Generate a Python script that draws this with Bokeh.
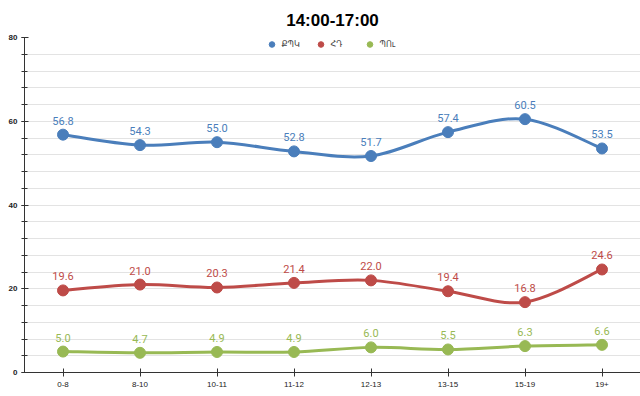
from bokeh.plotting import figure
from bokeh.models import Range1d, FixedTicker, SingleIntervalTicker, ColumnDataSource, Legend, LegendItem
from bokeh.embed import file_html
from bokeh.resources import INLINE
from bokeh.core.properties import value

title_text = "14:00-17:00"
categories = ["0-8", "8-10", "10-11", "11-12", "12-13", "13-15", "15-19", "19+"]
series_names = ["ՔՊԿ", "ՀԴ", "ՊՈւ"]
blue_vals = [56.8, 54.3, 55.0, 52.8, 51.7, 57.4, 60.5, 53.5]
red_vals = [19.6, 21.0, 20.3, 21.4, 22.0, 19.4, 16.8, 24.6]
green_vals = [5.0, 4.7, 4.9, 4.9, 6.0, 5.5, 6.3, 6.6]
colors = ["#4a7ebb", "#be4b48", "#98b954"]

p = figure(width=640, height=396, output_backend="svg", toolbar_location=None,
           x_range=Range1d(-0.5, len(categories) - 0.5), y_range=Range1d(0, 80),
           min_border_left=24, min_border_right=0, min_border_top=37, min_border_bottom=24)
p.outline_line_color = None
p.title.text = title_text
p.title.align = "center"
p.title.text_font = "Liberation Sans"
p.title.text_font_size = "17px"
p.title.text_font_style = "bold"
p.title.text_color = "#000000"
p.title.standoff = 15

# axes
xa = p.xaxis[0]
xa.ticker = FixedTicker(ticks=list(range(len(categories))))
xa.major_label_overrides = {i: c for i, c in enumerate(categories)}
xa.major_tick_in = 4
xa.major_tick_out = 4
xa.minor_tick_line_color = None
xa.axis_line_color = "#333333"
xa.major_tick_line_color = "#333333"
xa.major_label_text_font = "Liberation Sans"
xa.major_label_text_font_size = "8px"
xa.major_label_text_color = "#222222"
xa.major_label_standoff = 5

ya = p.yaxis[0]
ya.ticker = SingleIntervalTicker(interval=20, num_minor_ticks=5)
ya.major_tick_in = 4
ya.major_tick_out = 3
ya.minor_tick_in = 3
ya.minor_tick_out = 3
ya.axis_line_color = "#333333"
ya.major_tick_line_color = "#333333"
ya.minor_tick_line_color = "#333333"
ya.major_label_text_font = "Liberation Sans"
ya.major_label_text_font_size = "8px"
ya.major_label_text_font_style = "bold"
ya.major_label_text_color = "#222222"
ya.major_label_standoff = 4

p.xgrid.grid_line_color = None
p.ygrid.grid_line_color = "#e3e3e3"
p.ygrid.minor_grid_line_color = "#e3e3e3"
p.ygrid.ticker = ya.ticker

xs = list(range(len(categories)))
legend_items = []
for name, vals, col in zip(series_names, [blue_vals, red_vals, green_vals], colors):
    n = len(vals)
    x0, y0, x1, y1, cx0, cy0, cx1, cy1 = [], [], [], [], [], [], [], []
    for i in range(n - 1):
        xm1, ym1 = (xs[i - 1], vals[i - 1]) if i > 0 else (xs[i], vals[i])
        xp2, yp2 = (xs[i + 2], vals[i + 2]) if i + 2 < n else (xs[i + 1], vals[i + 1])
        x0.append(xs[i]); y0.append(vals[i])
        x1.append(xs[i + 1]); y1.append(vals[i + 1])
        cx0.append(xs[i] + (xs[i + 1] - xm1) / 6); cy0.append(vals[i] + (vals[i + 1] - ym1) / 6)
        cx1.append(xs[i + 1] - (xp2 - xs[i]) / 6); cy1.append(vals[i + 1] - (yp2 - vals[i]) / 6)
    bsrc = ColumnDataSource(dict(x0=x0, y0=y0, x1=x1, y1=y1, cx0=cx0, cy0=cy0, cx1=cx1, cy1=cy1))
    p.bezier(x0="x0", y0="y0", x1="x1", y1="y1", cx0="cx0", cy0="cy0", cx1="cx1", cy1="cy1",
             source=bsrc, line_color=col, line_width=3)
    src = ColumnDataSource(dict(x=xs, y=vals, lab=[f"{v:.1f}" for v in vals]))
    r = p.scatter("x", "y", source=src, size=11, fill_color=col, line_color=col)
    legend_items.append(LegendItem(label=name, renderers=[r]))
    p.text("x", "y", text="lab", source=src, text_color=col, text_font=value("Roboto"),
           text_font_size="11px", text_align="center", text_baseline="bottom", y_offset=-10)

legend = Legend(items=legend_items, orientation="horizontal", location="top_center",
                label_text_font="DejaVu Sans", label_text_font_size="8px",
                label_text_color="#444444", glyph_width=14, glyph_height=14,
                spacing=12, padding=0, margin=0, border_line_color=None,
                background_fill_alpha=0, label_standoff=3, label_height=14)
p.add_layout(legend)

open("out.html", "w").write(file_html(p, INLINE))
